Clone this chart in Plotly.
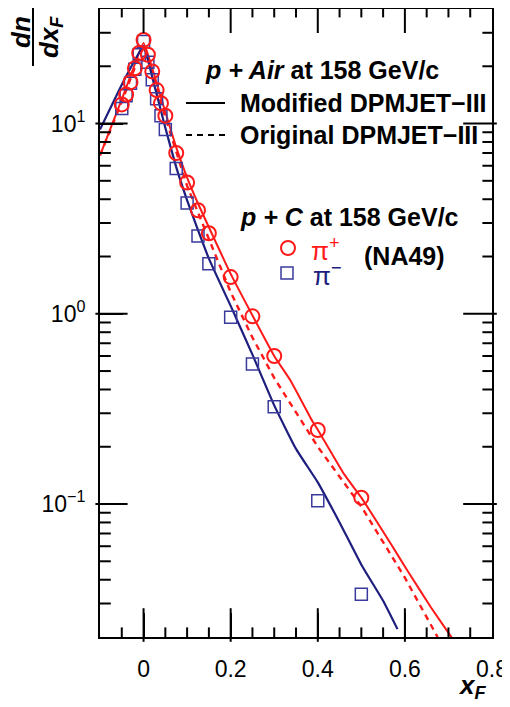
import numpy as np
import plotly.graph_objects as go

# ---------------- data ----------------
# NA49 p+C at 158 GeV/c
xf_data = [-0.05, -0.04, -0.03, -0.02, -0.01, 0.0, 0.01, 0.02, 0.03, 0.04, 0.05,
           0.075, 0.1, 0.125, 0.15, 0.2, 0.25, 0.3, 0.4, 0.5]
pip_data = [12.6, 14.2, 16.5, 19.5, 23.5, 27.5, 23.0, 18.8, 15.0, 12.8, 11.0,
            7.0, 4.9, 3.5, 2.65, 1.56, 0.97, 0.60, 0.245, 0.108]
pim_data = [12.0, 14.0, 16.3, 19.3, 23.0, 27.0, 21.0, 17.0, 13.5, 11.0, 9.3,
            5.8, 3.82, 2.56, 1.83, 0.96, 0.545, 0.325, 0.104, 0.0336]

# Modified DPMJET-III, pi+
xf_mod_pip = [-0.1, -0.05, -0.02, 0.0, 0.02, 0.05, 0.075, 0.1, 0.125, 0.15, 0.2,
              0.25, 0.3, 0.337, 0.387, 0.4, 0.46, 0.5, 0.568, 0.606, 0.66, 0.71, 0.72]
mod_pip = [6.8, 13.4, 20.5, 26.5, 19.5, 11.5, 7.5, 5.2, 3.8, 2.85, 1.62,
           0.98, 0.60, 0.447, 0.274, 0.246, 0.144, 0.108, 0.0616, 0.0446, 0.0286, 0.0195, 0.018]
# Original DPMJET-III, pi+
xf_orig_pip = [-0.1, -0.05, 0.0, 0.05, 0.1, 0.15, 0.2, 0.25, 0.3, 0.4, 0.5, 0.6, 0.675]
orig_pip = [6.8, 13.0, 26.0, 10.8, 4.7, 2.45, 1.3, 0.75, 0.46, 0.20, 0.097, 0.041, 0.020]
# Modified DPMJET-III, pi-
xf_mod_pim = [-0.1, -0.05, -0.02, 0.0, 0.02, 0.05, 0.075, 0.1, 0.125, 0.15, 0.2,
              0.25, 0.3, 0.35, 0.4, 0.45, 0.5, 0.55, 0.583]
mod_pim = [9.3, 16.0, 21.5, 25.5, 17.5, 9.5, 5.9, 3.95, 2.75, 1.95, 1.1,
           0.61, 0.33, 0.195, 0.13, 0.08, 0.048, 0.031, 0.022]

x_ticks = [0, 0.2, 0.4, 0.6, 0.8]
x_ticktext = ["0", "0.2", "0.4", "0.6", "0.8"]
x_minor_ticks = [-0.05, 0.05, 0.1, 0.15, 0.25, 0.3, 0.35, 0.45, 0.5, 0.55, 0.65, 0.7, 0.75]
y_ticks = [0.1, 1, 10]
y_ticktext = ["10<sup>\u22121</sup>", "10<sup>0</sup>", "10<sup>1</sup>"]
y_minor_ticks = [0.02, 0.03, 0.04, 0.05, 0.06, 0.07, 0.08, 0.09,
                 0.2, 0.3, 0.4, 0.5, 0.6, 0.7, 0.8, 0.9,
                 2, 3, 4, 5, 6, 7, 8, 9, 20, 30]

X_RANGE = [-0.1, 0.8]
Y_RANGE = [np.log10(0.02), np.log10(40)]

RED = "#ff1a1a"
BLUE_LINE = "#1e1e7e"
BLUE_MK = "#3a3a9c"
FONT = "Liberation Sans, Arial, Helvetica, sans-serif"

# page offset of the plot div (body margin) and target frame in window pixels
OFF = 8
W, H = 510 - OFF, 707 - OFF
L, R, T, B = 100, 492, 9, 637  # window pixels
PW, PH = R - L, B - T


def px(xp):
    return (xp - L) / PW


def py(yp):
    return (B - yp) / PH


fig = go.Figure()

fig.add_trace(go.Scatter(x=xf_orig_pip, y=orig_pip, mode="lines",
                         line=dict(color=RED, width=2.4, dash="6px,5px"),
                         showlegend=False, hoverinfo="skip"))
fig.add_trace(go.Scatter(x=xf_mod_pip, y=mod_pip, mode="lines",
                         line=dict(color=RED, width=2, shape="spline", smoothing=0.4),
                         showlegend=False, hoverinfo="skip"))
fig.add_trace(go.Scatter(x=xf_mod_pim, y=mod_pim, mode="lines",
                         line=dict(color=BLUE_LINE, width=2.2, shape="spline", smoothing=0.4),
                         showlegend=False, hoverinfo="skip"))
fig.add_trace(go.Scatter(x=xf_data, y=pim_data, mode="markers",
                         marker=dict(symbol="square-open", size=12, color=BLUE_MK,
                                     line=dict(width=1.5, color=BLUE_MK)),
                         showlegend=False))
fig.add_trace(go.Scatter(x=xf_data, y=pip_data, mode="markers",
                         marker=dict(symbol="circle-open", size=14, color=RED,
                                     line=dict(width=2, color=RED)),
                         showlegend=False))

# ---- inward tick marks: line-shaped markers centred half a tick length inside each edge ----
x_span = X_RANGE[1] - X_RANGE[0]
y_span = Y_RANGE[1] - Y_RANGE[0]


def add_ticks(xs, ys, symbol, size):
    fig.add_trace(go.Scatter(x=xs, y=ys, mode="markers", cliponaxis=False,
                             marker=dict(symbol=symbol, size=size, color="black",
                                         line=dict(color="black", width=2)),
                             showlegend=False, hoverinfo="skip"))


for vals, blen, tlen in ((x_ticks, 24, 20), (x_minor_ticks, 8, 7)):
    vv = [v for v in vals if X_RANGE[0] < v < X_RANGE[1]]
    add_ticks(vv, [10 ** (Y_RANGE[0] + blen / 2 / PH * y_span)] * len(vv), "line-ns", blen)
    add_ticks(vv, [10 ** (Y_RANGE[1] - tlen / 2 / PH * y_span)] * len(vv), "line-ns", tlen)
for vals, llen, rlen in ((y_ticks, 23, 24), (y_minor_ticks, 9, 8)):
    vv = [v for v in vals if Y_RANGE[0] < np.log10(v) < Y_RANGE[1]]
    add_ticks([X_RANGE[0] + llen / 2 / PW * x_span] * len(vv), vv, "line-ew", llen)
    add_ticks([X_RANGE[1] - rlen / 2 / PW * x_span] * len(vv), vv, "line-ew", rlen)

tickfont = dict(family=FONT, size=23, color="black")
common = dict(showgrid=False, zeroline=False, automargin=False)

fig.update_layout(
    template="none",
    width=W, height=H,
    margin=dict(l=L - OFF, r=510 - R, t=T - OFF, b=707 - B, pad=0),
    paper_bgcolor="white", plot_bgcolor="white", showlegend=False,
    xaxis=dict(range=X_RANGE, tickmode="array", tickvals=x_ticks, ticktext=x_ticktext,
               ticks="inside", ticklen=24, tickwidth=2, tickcolor="black",
               showline=True, linewidth=2, linecolor="black", mirror=True,
               tickfont=tickfont, ticklabelstandoff=10, **common),
    yaxis=dict(type="log", range=Y_RANGE, tickmode="array", tickvals=y_ticks, ticktext=y_ticktext,
               ticks="inside", ticklen=23, tickwidth=2, tickcolor="black",
               showline=True, linewidth=2, linecolor="black", mirror=True,
               tickfont=tickfont, ticklabelstandoff=8, **common),
)

ann = []


def text(xp, yp, s, size=25, color="black", xanchor="left", angle=0):
    ann.append(dict(x=px(xp), y=py(yp), xref="paper", yref="paper", text=s,
                    showarrow=False, xanchor=xanchor, yanchor="middle", textangle=angle,
                    font=dict(family=FONT, size=size, color=color)))


text(203, 70, "<b><i>p + Air</i> at 158 GeV/c</b>")
text(238, 103, "<b>Modified DPMJET\u2212III</b>")
text(238, 135, "<b>Original DPMJET\u2212III</b>")
text(238, 217, "<b><i>p + C</i> at 158 GeV/c</b>")
text(309, 250, "\u03c0<sup>+</sup>", size=26, color=RED)
text(362, 256, "<b>(NA49)</b>")
text(311, 274, "\u03c0<sup>\u2212</sup>", size=26, color=BLUE_LINE)
# axis titles
text(472, 686, "<b><i>x<sub>F</sub></i></b>", size=26, xanchor="center")
text(21, 32, "<b><i>dn</i></b>", size=26, xanchor="center", angle=-90)
text(51, 37, "<b><i>dx<sub>F</sub></i></b>", size=26, xanchor="center", angle=-90)

shapes = [
    dict(type="line", xref="paper", yref="paper", x0=px(33), x1=px(33), y0=py(6), y1=py(66),
         line=dict(color="black", width=2)),
    dict(type="line", xref="paper", yref="paper", x0=px(186), x1=px(225), y0=py(103), y1=py(103),
         line=dict(color="black", width=2)),
    dict(type="line", xref="paper", yref="paper", x0=px(186), x1=px(225), y0=py(135), y1=py(135),
         line=dict(color="black", width=2, dash="6px,5px")),
    dict(type="circle", xref="paper", yref="paper", xsizemode="pixel", ysizemode="pixel",
         xanchor=px(288), yanchor=py(248), x0=-7, x1=7, y0=-7, y1=7,
         line=dict(color=RED, width=2)),
    dict(type="rect", xref="paper", yref="paper", xsizemode="pixel", ysizemode="pixel",
         xanchor=px(287), yanchor=py(273), x0=-6, x1=6, y0=-6, y1=6,
         line=dict(color=BLUE_MK, width=1.5)),
]

fig.update_layout(annotations=ann, shapes=shapes)

fig.write_html("out.html")
